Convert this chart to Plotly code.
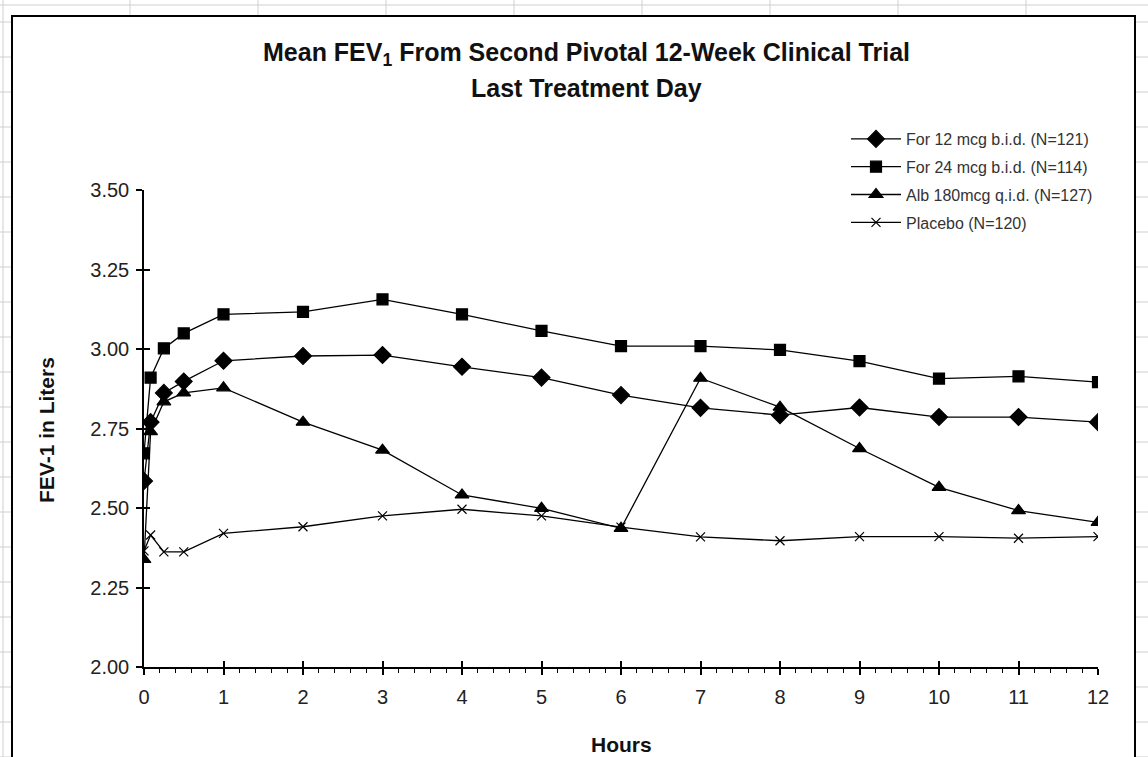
import plotly.graph_objects as go

hours = [0, 0.083, 0.25, 0.5, 1, 2, 3, 4, 5, 6, 7, 8, 9, 10, 11, 12]
for12 = [2.585, 2.77, 2.862, 2.898, 2.963, 2.978, 2.981, 2.944, 2.910, 2.855, 2.815, 2.792, 2.816, 2.786, 2.786, 2.770]
for24 = [2.672, 2.91, 3.002, 3.049, 3.109, 3.117, 3.156, 3.109, 3.057, 3.009, 3.009, 2.997, 2.962, 2.907, 2.914, 2.896]
alb = [2.338, 2.74, 2.834, 2.862, 2.878, 2.770, 2.682, 2.541, 2.499, 2.436, 2.908, 2.817, 2.687, 2.565, 2.492, 2.455]
placebo = [2.365, 2.415, 2.362, 2.362, 2.42, 2.441, 2.475, 2.496, 2.475, 2.44, 2.409, 2.397, 2.41, 2.41, 2.405, 2.41]

names = ["For 12 mcg b.i.d. (N=121)", "For 24 mcg b.i.d. (N=114)",
         "Alb 180mcg q.i.d. (N=127)", "Placebo (N=120)"]
series = [for12, for24, alb, placebo]
symbols = ["diamond", "square", "triangle-up", "x-thin-open"]
sizes = [13, 11, 12, 9]

W_FIG, H_FIG = 1148, 757
L, R, T, B = 144, 50, 190, 90
PW = W_FIG - L - R
PH = H_FIG - T - B


def px(x):
    return (x - L) / PW


def py(y):
    return (H_FIG - B - y) / PH


fig = go.Figure()
for i, (nm, vals) in enumerate(zip(names, series)):
    fig.add_trace(go.Scatter(
        x=hours, y=vals, name=nm, mode="lines+markers",
        legendgroup=f"g{i}",
        line=dict(color="black", width=1.3),
        marker=dict(symbol=symbols[i], size=sizes[i], color="black",
                    line=dict(color="black", width=1.2)),
    ))
# helper trace for inner tick marks (crossing ticks)
fig.add_trace(go.Scatter(x=[], y=[], xaxis="x2", yaxis="y2", showlegend=False, hoverinfo="skip"))

shapes = []
grid = "#cfcfcf"
# spreadsheet grid outside the chart
for ypix in range(-13, 800, 35):
    shapes.append(dict(type="line", xref="paper", yref="paper", x0=px(0), x1=px(12),
                       y0=py(ypix), y1=py(ypix), line=dict(color=grid, width=1), layer="below"))
    shapes.append(dict(type="line", xref="paper", yref="paper", x0=px(1135), x1=px(1148),
                       y0=py(ypix), y1=py(ypix), line=dict(color=grid, width=1), layer="below"))
for xpix in range(130, 1148, 128):
    shapes.append(dict(type="line", xref="paper", yref="paper", x0=px(xpix), x1=px(xpix),
                       y0=py(0), y1=py(16), line=dict(color=grid, width=1), layer="below"))
shapes.append(dict(type="line", xref="paper", yref="paper", x0=px(0), x1=px(1148),
                   y0=py(5), y1=py(5), line=dict(color=grid, width=1), layer="below"))
shapes.append(dict(type="line", xref="paper", yref="paper", x0=px(3), x1=px(3),
                   y0=py(0), y1=py(757), line=dict(color=grid, width=1), layer="below"))
# chart area
shapes.append(dict(type="rect", xref="paper", yref="paper", x0=px(12), x1=px(1135),
                   y0=py(16), y1=py(770), fillcolor="white",
                   line=dict(color="black", width=2), layer="below"))

fig.update_layout(
    width=W_FIG, height=H_FIG,
    margin=dict(l=L, r=R, t=T, b=B),
    paper_bgcolor="white", plot_bgcolor="rgba(0,0,0,0)",
    font=dict(family="Arial, Liberation Sans", color="#222"),
    shapes=shapes,
    showlegend=True,
    legend=dict(x=px(846), y=py(122), xanchor="left", yanchor="top",
                bgcolor="rgba(0,0,0,0)", font=dict(size=16, color="#333"),
                itemwidth=50, tracegroupgap=4),
    xaxis=dict(range=[0, 12], tickmode="linear", tick0=0, dtick=1,
               showgrid=False, zeroline=False, showline=True, linecolor="black", linewidth=1.5,
               ticks="outside", ticklen=6, tickwidth=1.5, tickcolor="black",
               minor=dict(dtick=0.2, ticks="outside", ticklen=4, tickwidth=1.2, tickcolor="black"),
               tickfont=dict(size=20, color="#222"), ticklabelstandoff=5),
    yaxis=dict(range=[2.0, 3.5], tickmode="linear", tick0=2.0, dtick=0.25, tickformat=".2f",
               showgrid=False, zeroline=False, showline=True, linecolor="black", linewidth=1.5,
               ticks="outside", ticklen=6, tickwidth=1.5, tickcolor="black",
               tickfont=dict(size=20, color="#222"), ticklabelstandoff=3),
    xaxis2=dict(range=[0, 12], overlaying="x", anchor="y2", side="bottom",
                tickmode="linear", tick0=0, dtick=1, ticks="inside", ticklen=6, tickwidth=1.5,
                tickcolor="black", showticklabels=False, showline=False, showgrid=False,
                zeroline=False),
    yaxis2=dict(range=[2.0, 3.5], overlaying="y", anchor="x2", side="left",
                tickmode="linear", tick0=2.0, dtick=0.25, ticks="inside", ticklen=6, tickwidth=1.5,
                tickcolor="black", showticklabels=False, showline=False, showgrid=False,
                zeroline=False),
    annotations=[
        dict(text="<b>Mean FEV<sub>1</sub> From Second Pivotal 12-Week Clinical Trial</b>",
             xref="paper", yref="paper", x=px(586), y=py(54), xanchor="center", yanchor="middle",
             showarrow=False, font=dict(size=25, color="#111")),
        dict(text="<b>Last Treatment Day</b>",
             xref="paper", yref="paper", x=px(586), y=py(88), xanchor="center", yanchor="middle",
             showarrow=False, font=dict(size=25, color="#111")),
        dict(text="<b>FEV-1 in Liters</b>", textangle=-90,
             xref="paper", yref="paper", x=px(46), y=py(430), xanchor="center", yanchor="middle",
             showarrow=False, font=dict(size=21, color="#111")),
        dict(text="<b>Hours</b>",
             xref="paper", yref="paper", x=px(621), y=py(744), xanchor="center", yanchor="middle",
             showarrow=False, font=dict(size=21, color="#111")),
    ],
)

fig.write_html("out.html", config={"displayModeBar": False},
               post_script="document.body.style.margin='0px';")
